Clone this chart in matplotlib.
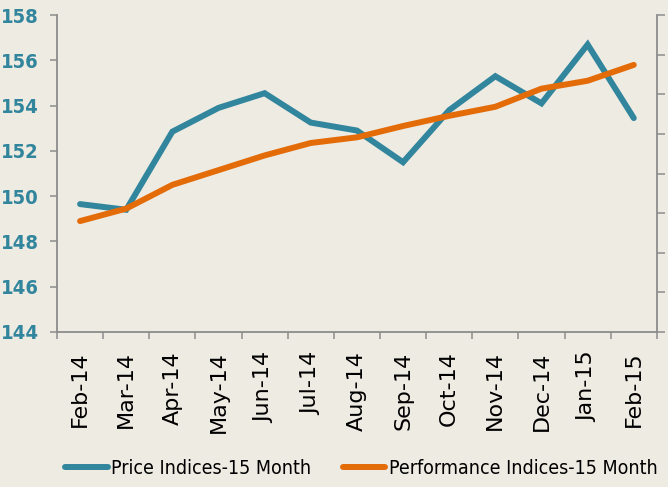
import matplotlib
matplotlib.use('Agg')
import matplotlib.pyplot as plt
from matplotlib import font_manager
from matplotlib.font_manager import FontProperties

months = ['Feb-14', 'Mar-14', 'Apr-14', 'May-14', 'Jun-14', 'Jul-14', 'Aug-14',
          'Sep-14', 'Oct-14', 'Nov-14', 'Dec-14', 'Jan-15', 'Feb-15']
price = [149.65, 149.4, 152.85, 153.9, 154.55, 153.25, 152.9,
         151.5, 153.8, 155.3, 154.1, 156.7, 153.45]
perf = [148.9, 149.45, 150.5, 151.15, 151.8, 152.35, 152.6,
        153.1, 153.55, 153.95, 154.75, 155.1, 155.8]


def find_font(candidates):
    files = [f.fname for f in font_manager.fontManager.ttflist]
    for c in candidates:
        for fn in files:
            if fn.split('/')[-1].lower().startswith(c.lower()):
                return fn
    return None


bold_file = find_font(['LiberationSansNarrow-Bold.', 'DejaVuSansCondensed-Bold.',
                       'RobotoCondensed-Bold', 'Roboto-Bold'])
reg_file = find_font(['LiberationSansNarrow-Regular.', 'DejaVuSansCondensed.',
                      'RobotoCondensed-Regular', 'Roboto-Regular'])

bg = '#eeebe3'
blue = '#31859c'
orange = '#e36c09'
grey = '#8c8c8c'

fig = plt.figure(figsize=(6.68, 4.87), dpi=100, facecolor=bg)
ax = fig.add_axes([0.0853, 0.3183, 0.898, 0.6507], facecolor=bg)

x = list(range(len(months)))
l1, = ax.plot(x, price, color=blue, lw=4.3, solid_capstyle='round', solid_joinstyle='miter')
l2, = ax.plot(x, perf, color=orange, lw=4.3, solid_capstyle='round', solid_joinstyle='miter')

ax.set_xlim(-0.5, len(months) - 0.5)
ax.set_ylim(144, 158)
ax.set_yticks(range(144, 159, 2))
yfp = FontProperties(fname=bold_file, size=14.5) if bold_file else FontProperties(weight='bold', size=13)
ax.set_yticklabels([str(v) for v in range(144, 159, 2)], fontproperties=yfp, color=blue)
ax.set_xticks(x)
ax.set_xticklabels(months, rotation=90, fontsize=16, fontfamily='DejaVu Sans')
ax.set_xticks([i - 0.5 for i in range(len(months) + 1)], minor=True)
ax.tick_params(axis='x', which='major', length=0, pad=14)
ax.tick_params(axis='x', which='minor', length=5, color=grey, width=1.1)
ax.tick_params(axis='y', length=5, color=grey, width=1.1, pad=8)

for s in ['top', 'right']:
    ax.spines[s].set_visible(False)
for s in ['left', 'bottom']:
    ax.spines[s].set_color(grey)
    ax.spines[s].set_linewidth(1.3)

ax2 = ax.twinx()
ax2.set_ylim(0, 8)
ax2.set_yticks(range(0, 9))
ax2.set_yticklabels([])
ax2.tick_params(axis='y', length=6, color=grey, width=1.1)
for s in ['top', 'left', 'bottom']:
    ax2.spines[s].set_visible(False)
ax2.spines['right'].set_color(grey)
ax2.spines['right'].set_linewidth(1.3)

lfp = FontProperties(fname=reg_file, size=14) if reg_file else FontProperties(size=13)
fig.legend([l1, l2], ['Price Indices-15 Month', 'Performance Indices-15 Month'],
           loc='center left', bbox_to_anchor=(0.097, 0.039), ncol=2, frameon=False,
           prop=lfp, handlelength=2.2, handletextpad=0.2,
           columnspacing=1.6, borderaxespad=0, borderpad=0)

fig.savefig('out.png', dpi=100, facecolor=bg)
